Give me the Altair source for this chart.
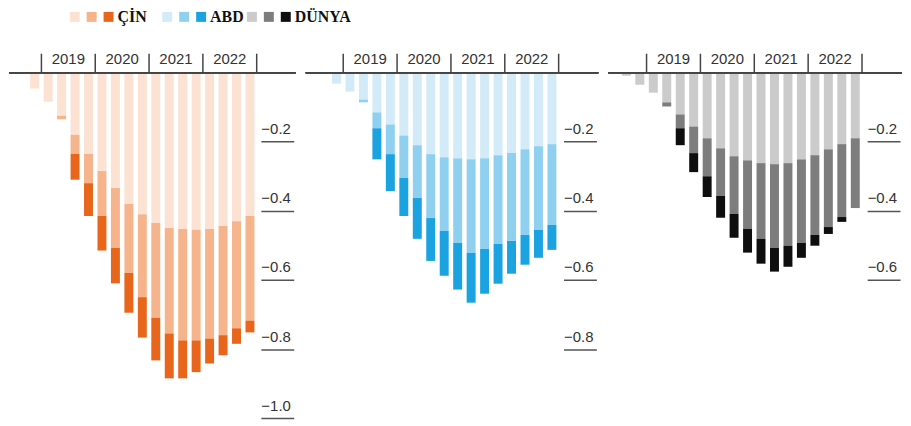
import altair as alt
import pandas as pd

# ---------------- data ----------------
quarters = ["2018Q3", "2018Q4",
            "2019Q1", "2019Q2", "2019Q3", "2019Q4",
            "2020Q1", "2020Q2", "2020Q3", "2020Q4",
            "2021Q1", "2021Q2", "2021Q3", "2021Q4",
            "2022Q1", "2022Q2", "2022Q3", "2022Q4"]
years = ["2019", "2020", "2021", "2022"]
year_mid = [3.5, 7.5, 11.5, 15.5]          # quarter-index position of year labels
year_edges = [1.5, 5.5, 9.5, 13.5, 17.5]   # quarter-index position of year separators

# cumulative levels (light, medium, dark) per panel
cin_1 = [0, -0.046, -0.084, -0.125, -0.180, -0.235, -0.285, -0.334, -0.380, -0.410,
         -0.435, -0.450, -0.453, -0.455, -0.453, -0.444, -0.430, -0.415]
cin_2 = [0, -0.046, -0.084, -0.135, -0.235, -0.320, -0.415, -0.507, -0.580, -0.650,
         -0.710, -0.755, -0.775, -0.775, -0.770, -0.760, -0.740, -0.718]
cin_3 = [0, -0.046, -0.084, -0.135, -0.310, -0.415, -0.515, -0.610, -0.695, -0.767,
         -0.833, -0.885, -0.885, -0.867, -0.842, -0.818, -0.785, -0.752]

abd_1 = [0, -0.032, -0.055, -0.078, -0.115, -0.150, -0.182, -0.210, -0.236, -0.245,
         -0.248, -0.251, -0.248, -0.239, -0.233, -0.222, -0.213, -0.207]
abd_2 = [0, -0.032, -0.055, -0.086, -0.161, -0.236, -0.305, -0.363, -0.421, -0.458,
         -0.493, -0.522, -0.510, -0.496, -0.487, -0.470, -0.455, -0.441]
abd_3 = [0, -0.032, -0.055, -0.086, -0.251, -0.343, -0.415, -0.481, -0.545, -0.588,
         -0.628, -0.666, -0.640, -0.611, -0.582, -0.556, -0.536, -0.513]

dunya_1 = [-0.009, -0.035, -0.058, -0.086, -0.121, -0.156, -0.190, -0.219, -0.242, -0.254,
           -0.262, -0.265, -0.262, -0.251, -0.239, -0.222, -0.207, -0.190]
dunya_2 = [-0.009, -0.035, -0.058, -0.098, -0.161, -0.233, -0.300, -0.357, -0.409, -0.452,
           -0.481, -0.507, -0.501, -0.493, -0.470, -0.447, -0.418, -0.392]
dunya_3 = [-0.009, -0.035, -0.058, -0.098, -0.210, -0.288, -0.360, -0.420, -0.478, -0.521,
           -0.553, -0.576, -0.562, -0.536, -0.501, -0.467, -0.432, -0.392]

keys = ["ÇİN-1", "ÇİN-2", "ÇİN", "ABD-1", "ABD-2", "ABD", "DÜNYA-1", "DÜNYA-2", "DÜNYA"]
colors = ["#fbe2d2", "#f5b48b", "#e8661c",
          "#d3ebf8", "#8fd0f1", "#1ba2e0",
          "#cbcbcb", "#7d7d7d", "#0e0e0e"]

ticks_cin = [-0.2, -0.4, -0.6, -0.8, -1.0]
ticks_abd = [-0.2, -0.4, -0.6, -0.8]
ticks_dunya = [-0.2, -0.4, -0.6]

# ---------------- layout ----------------
PXQ = 14.0   # pixels per quarter
H = 347
yscale = alt.Scale(domain=[-1.0, 0], nice=False, zero=False)

GAP = "\u2800"   # blank filler after the first legend group
legend = alt.Legend(
    orient="none", legendX=58, legendY=-64, direction="horizontal", columns=9,
    symbolType="square", symbolSize=100, symbolStrokeWidth=0, symbolOpacity=1,
    title=None, padding=0, offset=0,
    labelExpr=("indexof(datum.label, '-') >= 0 ? '' : "
               "(datum.label == 'ÇİN' ? datum.label + '" + GAP + "' : datum.label)"),
    labelFont="Liberation Serif", labelFontWeight="bold", labelFontSize=16,
    labelColor="#111111", labelOffset=1, columnPadding=0,
)

edges_df = pd.DataFrame({"e": year_edges})
years_df = pd.DataFrame({"m": year_mid, "year": years})


def panel(levels, pkeys, ticks, dom):
    W = round((dom[1] - dom[0]) * PXQ)
    xscale = alt.Scale(domain=dom, nice=False, zero=False)
    rows = []
    for i, q in enumerate(quarters):
        prev = 0.0
        for lvl, k in zip(levels, pkeys):
            rows.append({"q": i, "quarter": q, "key": k, "y0": prev, "y1": lvl[i]})
            prev = lvl[i]
    df = pd.DataFrame(rows)

    bars = alt.Chart(df).mark_bar(size=9).encode(
        x=alt.X("q:Q", scale=xscale, axis=None),
        y=alt.Y("y0:Q", scale=yscale,
                axis=alt.Axis(orient="right", offset=-35, values=ticks, format=".1f",
                              tickSize=33, tickColor="#555555", tickWidth=1.5,
                              domain=False, grid=False, title=None,
                              labelPadding=-33, labelAlign="left",
                              labelBaseline="alphabetic", labelOffset=-8,
                              labelFont="Liberation Sans", labelFontSize=15,
                              labelColor="#333333", labelOverlap=False)),
        y2="y1:Q",
        color=alt.Color("key:N", scale=alt.Scale(domain=keys, range=colors), legend=legend),
    )
    # zero baseline at the top of the plot (y value 0 = top of the y domain)
    zero = alt.Chart(edges_df).mark_rule(color="#444444", strokeWidth=1.5).encode(
        x=alt.value(0), x2=alt.value(W), y=alt.value(0),
    )
    sep = alt.Chart(edges_df).mark_rule(color="#444444", strokeWidth=1.5).encode(
        x=alt.X("e:Q", scale=xscale, axis=None),
        y=alt.value(-19), y2=alt.value(0),
    )
    lab = alt.Chart(years_df).mark_text(
        font="Liberation Sans", fontSize=15, color="#333333",
        align="center", baseline="alphabetic",
    ).encode(
        x=alt.X("m:Q", scale=xscale, axis=None),
        y=alt.value(-9),
        text="year:N",
    )
    return alt.layer(bars, zero, sep, lab).properties(width=W, height=H)


p1 = panel([cin_1, cin_2, cin_3], keys[0:3], ticks_cin, [-0.54, 20.03])
p2 = panel([abd_1, abd_2, abd_3], keys[3:6], ticks_abd, [-0.92, 20.08])
p3 = panel([dunya_1, dunya_2, dunya_3], keys[6:9], ticks_dunya, [-0.97, 20.1])

chart = alt.hconcat(p1, p2, p3, spacing=8).resolve_scale(
    color="shared"
).resolve_legend(color="shared").properties(padding=0).configure_view(stroke=None)

chart.save("out.html", embed_options={"renderer": "svg", "actions": False})
